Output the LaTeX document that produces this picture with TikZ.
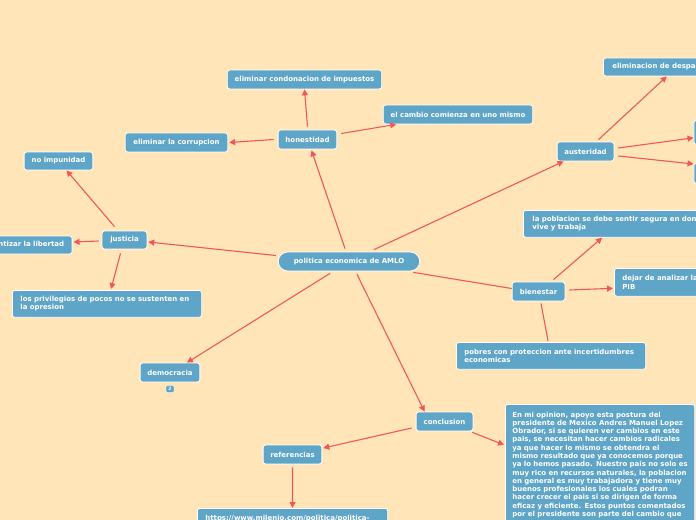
\documentclass[tikz,border=0pt]{standalone}
\usepackage{fontspec}
\setmainfont{DejaVu Sans}[BoldFont={DejaVu Sans Bold}]
\usetikzlibrary{arrows.meta}
\definecolor{bgc}{HTML}{FFE5B8}
\definecolor{nodec}{HTML}{5EA5C8}
\definecolor{linec}{HTML}{F05858}
\tikzset{
  box/.style={rounded corners=2.5, fill=nodec, draw=white, line width=0.8, text=white,
    font=\bfseries\fontsize{7}{8.3}\selectfont, inner sep=0pt, minimum height=19},
  mbox/.style={box, align=left, inner xsep=8, inner ysep=0, anchor=north west},
  conn/.style={draw=linec, line width=1.1},
  arr/.style={conn, -{Triangle[length=6,width=6]}},
}
\begin{document}
\begin{tikzpicture}[x=1bp,y=-1bp]
\useasboundingbox (0,0) rectangle (696,520);
\clip (0,0) rectangle (696,520);
\fill[bgc] (0,0) rectangle (696,520);

% central
\node[box, rounded corners=9.5, minimum width=142, minimum height=19] (c) at (349,261.5) {politica economica de AMLO};

% honestidad branch
\node[box, minimum width=59] (hon) at (307.5,139.5) {honestidad};
\node[box, minimum width=155] (cond) at (304.5,79.5) {eliminar condonacion de impuestos};
\node[box, minimum width=150] (camb) at (458,114.5) {el cambio comienza en uno mismo};
\node[box, minimum width=103] (corr) at (176.5,142.5) {eliminar la corrupcion};

% justicia branch
\node[box, minimum width=45, minimum height=18] (jus) at (124.5,240) {justicia};
\node[box, minimum width=69, minimum height=18] (imp) at (58.5,161) {no impunidad};
\node[box, inner xsep=8, minimum height=18, anchor=east] (lib) at (72.5,245) {garantizar la libertad};
\node[mbox, text width=174, minimum height=27] (priv) at (12,290) {los privilegios de pocos no se sustenten en\\la opresion};

% democracia
\node[box, minimum width=60] (dem) at (170,372.5) {democracia};
\node[box, rounded corners=1, minimum width=8, minimum height=7, line width=0.4,
  font=\bfseries\fontsize{4.5}{5}\selectfont] (badge) at (170,389) {2};

% austeridad branch
\node[box, minimum width=57] (aus) at (585.5,151.5) {austeridad};
\node[box, anchor=west, minimum height=18, inner xsep=9] (desp) at (603,67) {eliminacion de despachos};
\node[box, anchor=north west, minimum width=40, minimum height=24] (ra) at (693.5,120) {};
\node[box, anchor=north west, minimum width=40, minimum height=20] (rb) at (693.5,163) {};

% bienestar branch
\node[box, minimum width=53] (bien) at (538.5,291.5) {bienestar};
\node[mbox, inner xsep=9, text width=200, minimum height=27] (seg) at (523,210) {la poblacion se debe sentir segura en donde\\vive y trabaja};
\node[mbox, text width=200, minimum height=28] (pib) at (614,268) {dejar de analizar la economia solo con el\\PIB};
\node[mbox, text width=174, minimum height=27] (pob) at (456,342) {pobres con proteccion ante incertidumbres\\economicas};

% conclusion branch
\node[box, minimum width=57] (conc) at (444.5,421.5) {conclusion};
\node[box, minimum width=59] (ref) at (292.5,454.5) {referencias};
\node[mbox, text width=175, inner ysep=5.5, minimum height=20] (url) at (197,508) {https://www.milenio.com/politica/politica-};
\node[mbox, inner xsep=7, inner ysep=7.5, text width=176] (op) at (505,404) {%
\mbox{En mi opinion, apoyo esta postura del}\\
\mbox{presidente de Mexico Andres Manuel Lopez}\\
\mbox{Obrador, si se quieren ver cambios en este}\\
\mbox{pais, se necesitan hacer cambios radicales}\\
\mbox{ya que hacer lo mismo se obtendra el}\\
\mbox{mismo resultado que ya conocemos porque}\\
\mbox{ya lo hemos pasado. Nuestro pais no solo es}\\
\mbox{muy rico en recursos naturales, la poblacion}\\
\mbox{en general es muy trabajadora y tiene muy}\\
\mbox{buenos profesionales los cuales podran}\\
\mbox{hacer crecer el pais si se dirigen de forma}\\
\mbox{eficaz y eficiente. Estos puntos comentados}\\
\mbox{por el presidente son parte del cambio que}};

% connectors (yshift is upward on the canvas)
\draw[arr] ([xshift=-4,yshift=3]c.north) to ([xshift=4,yshift=-1]hon.south);
\draw[arr] ([yshift=3]hon.north) to (cond.south);
\draw[arr] ([xshift=4,yshift=6]hon.east) to ([xshift=-62]camb.south);
\draw[arr] ([xshift=-4]hon.west) to ([xshift=1]corr.east);
\draw[arr] ([xshift=-2,yshift=6]c.west) to ([xshift=1,yshift=-2]jus.east);
\draw[arr] ([xshift=-10,yshift=4]jus.north) to ([xshift=8]imp.south);
\draw[arr] ([xshift=-3,yshift=-1]jus.west) to ([xshift=1,yshift=3]lib.east);
\draw[arr] ([xshift=-4,yshift=-4]jus.south) to ([xshift=4,yshift=1]priv.north);
\draw[arr] ([xshift=-19,yshift=-2]c.south) to ([xshift=17]dem.north);
\draw[arr] ([xshift=8,yshift=-3]c.south) to ([xshift=-20]conc.north);
\draw[arr] ([xshift=25,yshift=2]c.north) to ([xshift=-22]aus.south);
\draw[conn] ([xshift=-7,yshift=-1]c.south east) to ([yshift=3]bien.west);
\draw[arr] ([xshift=13,yshift=2]aus.north) to ([xshift=64]desp.south west);
\draw[arr] ([xshift=4,yshift=3.5]aus.east) to ([yshift=-5.5]ra.west);
\draw[arr] ([xshift=4,yshift=-4.5]aus.east) to ([yshift=-1]rb.north west);
\draw[arr] ([xshift=15,yshift=2]bien.north) to ([xshift=-30]seg.south);
\draw[arr] ([xshift=4,yshift=1.5]bien.east) to ([xshift=-1,yshift=-6]pib.west);
\draw[conn] ([xshift=2.5,yshift=-2]bien.south) to ([xshift=-3,yshift=1]pob.north);
\draw[arr] ([xshift=-4,yshift=-6.5]conc.west) to ([xshift=1,yshift=6.5]ref.east);
\draw[arr] ([xshift=-1,yshift=-1]conc.south east) to ([xshift=-1,yshift=-41]op.north west);
\draw[arr] ([yshift=-3]ref.south) to (url.north);
\end{tikzpicture}
\end{document}
